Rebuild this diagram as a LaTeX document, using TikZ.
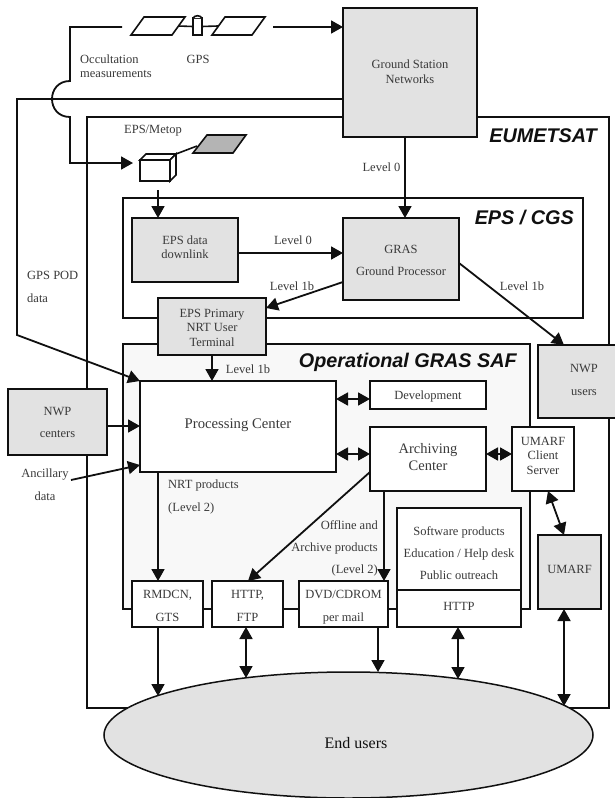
\documentclass[tikz,border=0pt]{standalone}
\usepackage{fontspec}
\setmainfont{Liberation Serif}
\setsansfont{Liberation Sans}
\usetikzlibrary{arrows.meta,calc,shapes.geometric}
\definecolor{boxgray}{HTML}{E2E2E2}
\definecolor{panelgray}{HTML}{B4B4B4}
\definecolor{safbg}{HTML}{F8F8F8}
\definecolor{ink}{HTML}{101010}
\definecolor{txt}{HTML}{3A3A3A}
\newcommand{\bx}[7][]{\node[plainbox,#1,minimum width={(#5-#3)*1pt},minimum height={(#6-#4)*1pt}] (#2) at ({(#3+#5)/2},{(#4+#6)/2}) {#7};}
\newcommand{\lift}[2]{\raisebox{#1pt}[\height][\depth]{\begin{tabular}{@{}c@{}}#2\end{tabular}}}
\tikzset{
  plainbox/.style={draw=ink,line width=2pt,inner sep=0pt,outer sep=0pt,align=center,text=txt,font=\fontsize{12.5}{22}\selectfont},
  tight/.style={font=\fontsize{12.5}{14.5}\selectfont},
  grayfill/.style={fill=boxgray},
  whitefill/.style={fill=white},
  frame/.style={draw=ink,line width=2.4pt,inner sep=0pt,outer sep=0pt},
  wire/.style={draw=ink,line width=1.8pt},
  arr/.style={wire,-{Triangle[length=12pt,width=13pt]}},
  darr/.style={wire,{Triangle[length=12pt,width=13pt]}-{Triangle[length=12pt,width=13pt]}},
  lbl/.style={inner sep=0pt,text=txt,align=center,font=\fontsize{12.5}{23}\selectfont},
  title/.style={inner sep=0pt,text=ink,font=\sffamily\bfseries\itshape\fontsize{19.8}{22}\selectfont},
  part/.style={draw=ink,line width=1.6pt,fill=white,line join=miter},
}
\begin{document}
\begin{tikzpicture}[x=1pt,y=-1pt]
\useasboundingbox (0,0) rectangle (615,798);
\fill[white] (0,0) rectangle (615,798);
% named x positions for vertical connectors
\foreach \n/\v in {a/158,b/212,c/246,d/384,e/378,f/458,g/564,h/405,i/70,j/17}{\coordinate (x\n) at (\v,0);}
% frames
\bx[frame]{eum}{87}{117}{609}{708}{}
\bx[frame]{cgs}{123}{198}{583}{318}{}
\bx[frame,fill=safbg]{saf}{123}{344}{530}{609}{}
% boxes
\bx[grayfill,font=\fontsize{12.5}{15}\selectfont]{gs}{343}{8}{477}{137}{\lift{0}{Ground Station\\Networks}}
\bx[grayfill,tight]{dl}{132}{218}{238}{282}{\lift{1.5}{EPS data\\downlink}}
\bx[grayfill]{gras}{343}{218}{459}{300}{\lift{-1}{GRAS\\Ground Processor}}
\bx[grayfill,tight]{term}{158}{298}{266}{355}{\lift{-2.5}{EPS Primary\\NRT User\\Terminal}}
\bx[whitefill,font=\fontsize{14.7}{16}\selectfont]{pc}{140}{381}{336}{472}{\lift{1}{Processing Center}}
\bx[grayfill]{nwpc}{8}{389}{107}{455}{\lift{0}{NWP\\centers}}
\bx[whitefill]{dev}{370}{381}{486}{409}{\lift{0}{Development}}
\bx[whitefill,font=\fontsize{14.5}{17}\selectfont]{arch}{370}{427}{486}{491}{\lift{0}{Archiving\\Center}}
\bx[whitefill,tight]{cs}{512}{427}{574}{491}{\lift{2}{UMARF\\Client\\Server}}
\bx[grayfill,font=\fontsize{12.5}{23}\selectfont]{nwpu}{538}{345}{630}{418}{\lift{2}{NWP\\users}}
\bx[grayfill]{um}{538}{535}{601}{609}{\lift{3}{UMARF}}
\bx[whitefill]{soft}{397}{508}{521}{590}{\lift{-4}{Software products\\Education / Help desk\\Public outreach}}
\bx[whitefill]{http}{397}{590}{521}{627}{\lift{2.5}{HTTP}}
\bx[whitefill,font=\fontsize{12.5}{23}\selectfont]{rmd}{132}{581}{203}{627}{\lift{-1.5}{RMDCN,\\GTS}}
\bx[whitefill,font=\fontsize{12.5}{23}\selectfont]{hf}{212}{581}{283}{627}{\lift{-1.5}{HTTP,\\FTP}}
\bx[whitefill,font=\fontsize{12.5}{23}\selectfont]{dvd}{299}{581}{388}{627}{\lift{-1.5}{DVD/CDROM\\per mail}}
\node[draw=ink,line width=1.5pt,fill=boxgray,ellipse,minimum width=489pt,minimum height=126pt,inner sep=0pt,outer sep=0pt,text=ink,font=\fontsize{16}{18}\selectfont] (end) at (348.5,735) {\hspace*{15pt}\lift{-10}{End users}};
% titles
\node[title,anchor=east] (t1) at (597,136) {EUMETSAT};
\node[title,anchor=east] (t2) at (574,218) {EPS / CGS};
\node[title,anchor=east] (t3) at (517,362) {Operational GRAS SAF};
% GPS satellite
\node[part,minimum width=9pt,minimum height=17pt,inner sep=0pt,outer sep=0pt] (gpsbody) at (197.5,26.5) {};
\draw[part] (gpsbody.north west) .. controls +(2,-3) and +(-2,-3) .. (gpsbody.north east);
\coordinate (pl1) at (178,26); \coordinate (pr1) at (218,26);
\draw[part] (pl1) -- (gpsbody.west);
\draw[part] (gpsbody.east) -- (pr1);
\draw[part] (131,35) -- (172,35) -- (185,17) -- (144,17) -- cycle;
\draw[part] (212,35) -- (252,35) -- (265,17) -- (225,17) -- cycle;
\coordinate (gpsw) at (122,27); \coordinate (gpse) at (273,27);
% EPS/Metop satellite
\draw[part] (140,160) -- (170,160) -- (170,181) -- (140,181) -- cycle;
\draw[part] (140,160) -- (146,154) -- (176,154) -- (170,160) -- cycle;
\draw[part] (176,154) -- (176,175) -- (170,181) -- (170,160) -- cycle;
\coordinate (cubetr) at (176,154); \coordinate (panel) at (197,146);
\draw[part] (cubetr) -- (panel);
\draw[part,fill=panelgray] (193,153) -- (233,153) -- (246,135) -- (207,135) -- cycle;
\coordinate (satb) at (158,190);
% connectors
\draw[arr] (gpse) -- (gpse -| gs.west);
\draw[arr] (gpsw) -- (xi |- gpsw) -- (70,81) .. controls (58,81) and (52,90) .. (52,99) .. controls (52,108) and (58,117) .. (70,117) -- (70,163) -- (133,163);
\draw[arr] (gs.west |- 0,99) -- (17,99) -- (17,335) -- (pc.north west);
\draw[arr] (xh |- gs.south) -- (xh |- gras.north);
\draw[arr] (satb) -- (satb |- dl.north);
\coordinate (dle) at (238,253);
\draw[arr] (dle) -- (dle -| gras.west);
\coordinate (grasa) at (343,282); \coordinate (terma) at (266,308);
\draw[arr] (grasa) -- (terma);
\coordinate (grasb) at (459,263); \coordinate (nwpa) at (564,345);
\draw[arr] (grasb) -- (nwpa);
\draw[arr] (xb |- term.south) -- (xb |- pc.north);
\draw[arr] (nwpc.east |- 0,426) -- (pc.west |- 0,426);
\coordinate (anc) at (71,480); \coordinate (pca) at (140,465);
\draw[arr] (anc) -- (pca);
\draw[darr] (pc.east |- 0,399) -- (dev.west |- 0,399);
\draw[darr] (pc.east |- 0,454) -- (arch.west |- 0,454);
\draw[darr] (arch.east |- 0,454) -- (cs.west |- 0,454);
\coordinate (csa) at (548,491); \coordinate (uma) at (564,535);
\draw[darr] (csa) -- (uma);
\draw[arr] (xd |- arch.south) -- (xd |- dvd.north);
\coordinate (arcb) at (370,472); \coordinate (hfa) at (248,581);
\draw[arr] (arcb) -- (hfa);
\draw[arr] (xa |- pc.south) -- (xa |- rmd.north);
\coordinate (e1) at (158,696); \coordinate (e2) at (246,678); \coordinate (e3) at (378,672); \coordinate (e4) at (458,679); \coordinate (e5) at (564,706);
\draw[arr] (xa |- rmd.south) -- (e1);
\draw[darr] (xc |- hf.south) -- (e2);
\draw[arr] (xe |- dvd.south) -- (e3);
\draw[darr] (xf |- http.south) -- (e4);
\draw[darr] (xg |- um.south) -- (e5);
% labels
\node[lbl,anchor=west,font=\fontsize{12.5}{14.5}\selectfont,align=left] (l1) at (80,66) {Occultation\\measurements};
\node[lbl] (l2) at (198,59) {GPS};
\node[lbl] (l3) at (153,131) {EPS/Metop};
\node[lbl] (l4) at (381.5,167) {Level 0};
\node[lbl] (l5) at (293,240) {Level 0};
\node[lbl] (l6) at (292,286) {Level 1b};
\node[lbl] (l7) at (522,286) {Level 1b};
\node[lbl] (l8) at (248,369) {Level 1b};
\node[lbl,anchor=west,align=left] (l9) at (27,287) {GPS POD\\data};
\node[lbl] (l10) at (45,485) {Ancillary\\data};
\node[lbl,anchor=west,align=left] (l11) at (168,497) {NRT products\\(Level 2)};
\node[lbl,anchor=east,align=right,font=\fontsize{12.5}{22}\selectfont] (l12) at (378,548) {Offline and\\Archive products\\(Level 2)};
\end{tikzpicture}
\end{document}
